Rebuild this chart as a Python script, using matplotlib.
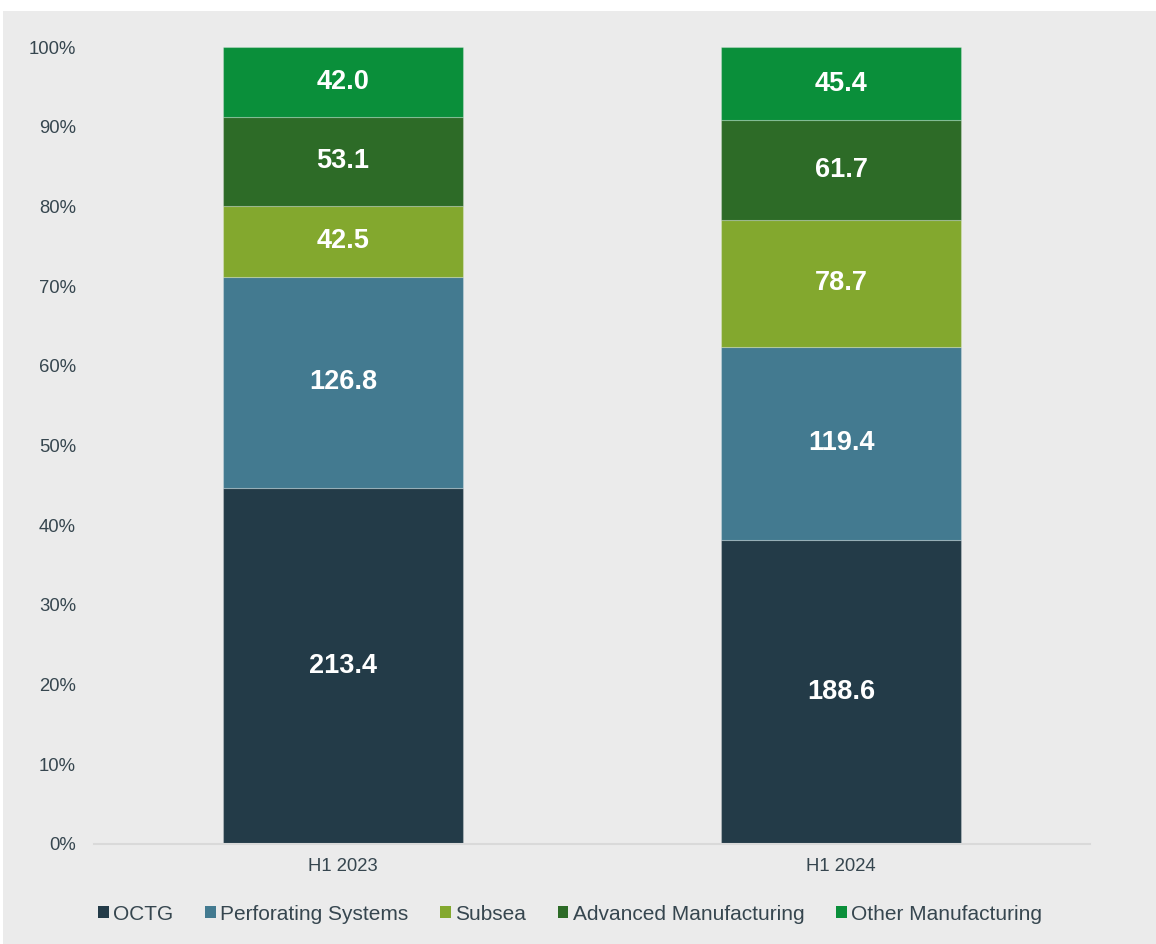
import numpy as np
import matplotlib.pyplot as plt
from matplotlib.patches import Rectangle

plt.rcParams['font.family'] = ['Liberation Sans', 'DejaVu Sans']

# Dữ liệu
periods = ['H1 2023', 'H1 2024']
segments = ['OCTG', 'Perforating Systems', 'Subsea', 'Advanced Manufacturing', 'Other Manufacturing']
octg = [213.4, 188.6]
perforating = [126.8, 119.4]
subsea = [42.5, 78.7]
advanced = [53.1, 61.7]
other = [42.0, 45.4]
colors = ['#233B48', '#437A90', '#83A82E', '#2D6B27', '#0A8F3A']

values = np.array([octg, perforating, subsea, advanced, other])
totals = values.sum(axis=0)
shares = values / totals

fig = plt.figure(figsize=(11.56, 9.44), dpi=100, facecolor='white')
fig.patches.append(Rectangle((3 / 1156, 0), 1, (944 - 11) / 944, transform=fig.transFigure,
                             facecolor='#EBEBEB', edgecolor='none', zorder=-1))
ax = fig.add_axes([94 / 1156, 100 / 944, 996 / 1156, 797 / 944])
ax.set_facecolor('none')

x = np.arange(len(periods))
bottom = np.zeros(len(periods))
for i, name in enumerate(segments):
    ax.bar(x, shares[i], 0.48, bottom=bottom, color=colors[i], label=name,
           edgecolor=(1, 1, 1, 0.25), linewidth=0.8)
    for j in range(len(periods)):
        ax.text(x[j], bottom[j] + shares[i][j] / 2, f'{values[i][j]:.1f}',
                ha='center', va='center', color='white', fontsize=19.5, fontweight='bold')
    bottom += shares[i]

ax.set_xlim(-0.5, 1.5)
ax.set_ylim(0, 1)
ax.set_yticks(np.arange(0, 1.01, 0.1))
ax.set_yticklabels([f'{v}%' for v in range(0, 101, 10)])
ax.set_xticks(x)
ax.set_xticklabels(periods)
ax.tick_params(axis='both', length=0, labelsize=13.3, colors='#36464F')
ax.tick_params(axis='y', pad=13)
ax.tick_params(axis='x', pad=10)
for s in ['top', 'right', 'left']:
    ax.spines[s].set_visible(False)
ax.spines['bottom'].set_color('#D9D9D9')
ax.spines['bottom'].set_linewidth(1.5)

leg = ax.legend(loc='center', bbox_to_anchor=(0.478, -0.088), ncol=5, frameon=False,
                fontsize=15, handlelength=0.5, handleheight=0.5, handletextpad=0.2,
                columnspacing=1.55, labelcolor='#36464F')
for h in leg.legend_handles:
    h.set_edgecolor('none')

plt.savefig('out.png', dpi=100, facecolor=fig.get_facecolor())
